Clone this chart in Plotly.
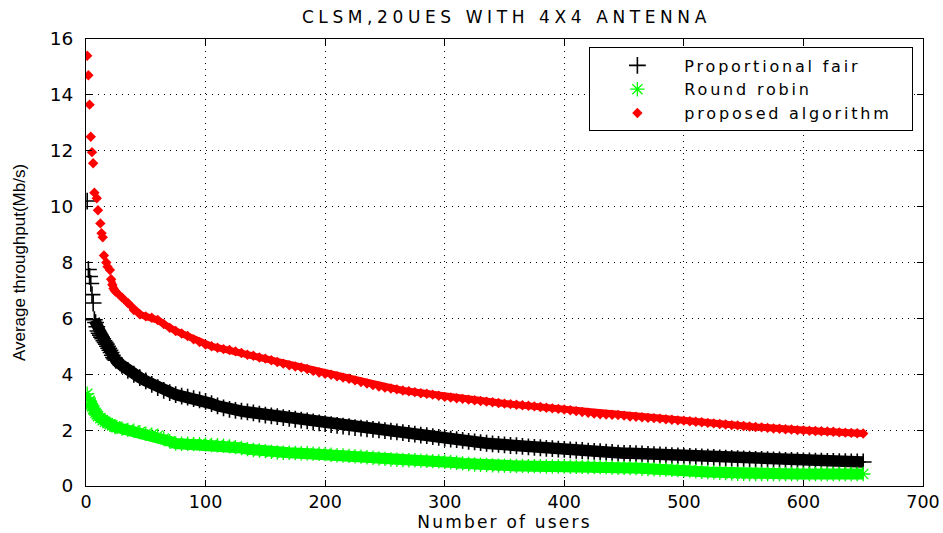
import plotly.graph_objects as go

# ---------------- data ----------------
title_text = "CLSM,20UES WITH 4X4 ANTENNA"
x_title = "Number of users"
y_title = "Average throughput(Mb/s)"
series_names = ["Proportional fair", "Round robin", "proposed algorithm"]

x_ticks = [0, 100, 200, 300, 400, 500, 600, 700]
y_ticks = [0, 2, 4, 6, 8, 10, 12, 14, 16]

# users at which the sorted throughput was read (every 5th user after 25)
tail_users = list(range(25, 651, 5))

# Proportional fair
pf_head_users = [1, 2, 3, 4, 5, 6]
pf_head = [10.2, 7.75, 7.5, 7.25, 6.85, 6.55]
pf_band_users = [7, 8, 9, 10, 11, 12, 13, 14, 15, 16, 17, 18, 19, 20, 21, 22, 23, 24]
pf_band = [5.95, 5.85, 5.7, 5.55, 5.47, 5.4, 5.33, 5.27, 5.2, 5.14, 5.08, 5.0,
           4.93, 4.86, 4.78, 4.68, 4.6, 4.55]
pf_tail = [4.5, 4.32, 4.14, 4.0, 3.88, 3.76, 3.64, 3.52, 3.42, 3.34,
           3.27, 3.22, 3.18, 3.13, 3.08, 3.03, 2.95, 2.87, 2.8, 2.74,
           2.71, 2.68, 2.65, 2.62, 2.57, 2.54, 2.51, 2.48, 2.45, 2.42,
           2.39, 2.36, 2.33, 2.29, 2.26, 2.23, 2.2, 2.17, 2.14, 2.12,
           2.09, 2.07, 2.05, 2.03, 2.01, 1.98, 1.96, 1.94, 1.91, 1.88,
           1.86, 1.82, 1.8, 1.77, 1.74, 1.71, 1.68, 1.66, 1.63, 1.6,
           1.58, 1.55, 1.53, 1.51, 1.49, 1.47, 1.45, 1.44, 1.42, 1.4,
           1.38, 1.37, 1.35, 1.34, 1.32, 1.31, 1.29, 1.28, 1.27, 1.25,
           1.24, 1.23, 1.21, 1.2, 1.18, 1.17, 1.17, 1.16, 1.15, 1.13,
           1.12, 1.11, 1.1, 1.09, 1.08, 1.07, 1.06, 1.05, 1.04, 1.03,
           1.02, 1.01, 1.0, 0.99, 0.98, 0.97, 0.96, 0.95, 0.95, 0.94,
           0.93, 0.93, 0.92, 0.92, 0.91, 0.9, 0.9, 0.89, 0.89, 0.88,
           0.88, 0.87, 0.87, 0.86, 0.86, 0.86]

# Round robin
rr_head_users = [1, 2]
rr_head = [3.3, 3.15]
rr_band_users = [3, 4, 5, 6, 7, 8, 9, 10, 12, 14, 16, 18, 20, 22, 24]
rr_band = [3.05, 2.95, 2.85, 2.75, 2.7, 2.62, 2.56, 2.5, 2.43, 2.36, 2.3, 2.25,
           2.21, 2.17, 2.13]
rr_tail = [2.11, 2.06, 2.01, 1.98, 1.93, 1.87, 1.84, 1.8, 1.7, 1.6,
           1.52, 1.51, 1.51, 1.5, 1.5, 1.49, 1.47, 1.46, 1.44, 1.42,
           1.39, 1.36, 1.32, 1.29, 1.27, 1.25, 1.22, 1.2, 1.19, 1.19,
           1.18, 1.17, 1.17, 1.16, 1.15, 1.14, 1.12, 1.1, 1.09, 1.08,
           1.06, 1.05, 1.03, 1.01, 0.99, 0.97, 0.95, 0.94, 0.93, 0.92,
           0.92, 0.91, 0.9, 0.89, 0.88, 0.87, 0.85, 0.83, 0.81, 0.79,
           0.77, 0.76, 0.75, 0.74, 0.73, 0.73, 0.72, 0.72, 0.72, 0.71,
           0.71, 0.71, 0.7, 0.7, 0.7, 0.7, 0.69, 0.69, 0.69, 0.68,
           0.68, 0.68, 0.67, 0.66, 0.65, 0.65, 0.64, 0.64, 0.62, 0.61,
           0.6, 0.59, 0.59, 0.58, 0.57, 0.56, 0.55, 0.53, 0.51, 0.5,
           0.49, 0.47, 0.46, 0.45, 0.44, 0.44, 0.43, 0.43, 0.43, 0.43,
           0.43, 0.43, 0.43, 0.43, 0.43, 0.43, 0.43, 0.43, 0.43, 0.43,
           0.43, 0.43, 0.43, 0.43, 0.43, 0.43]

# proposed algorithm
pa_head_users = [1, 2, 3, 4, 5, 6, 7, 9, 10, 12, 13, 14, 15, 17, 18, 20]
pa_head = [15.4, 14.7, 13.65, 12.5, 11.95, 11.55, 10.5, 10.3, 9.87, 9.4, 9.05,
           8.9, 8.25, 8.0, 7.85, 7.73]
pa_band_users = [21, 22, 23, 24]
pa_band = [7.4, 7.2, 7.07, 7.0]
pa_tail = [6.95, 6.75, 6.55, 6.3, 6.15, 6.07, 6.02, 5.94, 5.8, 5.66,
           5.55, 5.46, 5.37, 5.25, 5.15, 5.06, 5.0, 4.95, 4.9, 4.87,
           4.82, 4.76, 4.7, 4.66, 4.6, 4.56, 4.5, 4.44, 4.38, 4.32,
           4.28, 4.24, 4.19, 4.12, 4.06, 4.02, 3.98, 3.93, 3.88, 3.84,
           3.78, 3.72, 3.67, 3.61, 3.56, 3.52, 3.49, 3.46, 3.42, 3.39,
           3.36, 3.32, 3.3, 3.27, 3.23, 3.19, 3.17, 3.14, 3.12, 3.09,
           3.07, 3.04, 3.02, 3.0, 2.97, 2.95, 2.93, 2.91, 2.89, 2.87,
           2.85, 2.83, 2.8, 2.78, 2.76, 2.74, 2.71, 2.68, 2.65, 2.62,
           2.59, 2.57, 2.56, 2.55, 2.54, 2.52, 2.49, 2.48, 2.46, 2.44,
           2.43, 2.41, 2.39, 2.37, 2.35, 2.34, 2.32, 2.3, 2.28, 2.26,
           2.24, 2.22, 2.2, 2.18, 2.17, 2.15, 2.13, 2.11, 2.1, 2.08,
           2.06, 2.05, 2.03, 2.02, 2.0, 1.99, 1.98, 1.97, 1.96, 1.95,
           1.94, 1.92, 1.91, 1.9, 1.89, 1.88]

# ---------------- figure ----------------
BLACK = "#000000"
GREEN = "#00ff00"
RED = "#ff0000"
HFONT = "DejaVu Sans"
VFONT = "Liberation Sans, Arial"


def spaced(text, px, tail=""):
    """Widen horizontal text a little (the reference image is stretched sideways)."""
    return '<span style="letter-spacing:%gpx">%s%s</span>' % (px, text, tail)


styles = [
    dict(name=series_names[0], color=BLACK, symbol="cross-thin", size=12, lw=1.6, band=11.5,
         hu=pf_head_users, hy=pf_head, bu=pf_band_users + tail_users, by=pf_band + pf_tail),
    dict(name=series_names[1], color=GREEN, symbol="asterisk", size=12, lw=1.3, band=11,
         hu=rr_head_users, hy=rr_head, bu=rr_band_users + tail_users, by=rr_band + rr_tail),
    dict(name=series_names[2], color=RED, symbol="diamond", size=8, lw=0, band=7,
         hu=pa_head_users, hy=pa_head, bu=pa_band_users + tail_users, by=pa_band + pa_tail),
]

fig = go.Figure()
for s in styles:
    marker = dict(symbol=s["symbol"], size=s["size"], color=s["color"],
                  line=dict(color=s["color"], width=s["lw"]))
    fig.add_trace(go.Scatter(
        x=s["bu"], y=s["by"], mode="lines+markers", legendgroup=s["name"], showlegend=False,
        line=dict(color=s["color"], width=s["band"]), marker=marker, hoverinfo="skip"))
    fig.add_trace(go.Scatter(
        x=s["hu"], y=s["hy"], mode="markers",
        name=spaced(s["name"], 2.8, "\u00a0\u00a0"),
        legendgroup=s["name"], marker=marker))

axis_common = dict(
    showline=True, linecolor=BLACK, linewidth=1, mirror="ticks",
    ticks="inside", ticklen=6, tickcolor=BLACK, tickwidth=1,
    showgrid=True, gridcolor=BLACK, gridwidth=1, griddash="1px,5px",
    zeroline=False, automargin=False,
)

fig.update_layout(
    width=943, height=533,
    margin=dict(l=86, r=20, t=39, b=47),
    paper_bgcolor="white", plot_bgcolor="white",
    title=dict(text=spaced(title_text, 4.6), x=0.537, xanchor="center", y=1 - 17 / 533,
               yanchor="middle", yref="container",
               font=dict(family=HFONT, size=17, color=BLACK)),
    xaxis=dict(axis_common, range=[0, 700], tickvals=x_ticks, ticklabelstandoff=0,
               tickfont=dict(family=HFONT, size=17.5, color=BLACK),
               title=dict(text=spaced(x_title, 2.2), standoff=2,
                          font=dict(family=HFONT, size=17, color=BLACK))),
    yaxis=dict(axis_common, range=[0, 16], tickvals=y_ticks, ticklabelstandoff=8,
               tickfont=dict(family=HFONT, size=18.5, color=BLACK),
               title=dict(text=y_title, standoff=19,
                          font=dict(family=VFONT, size=17, color=BLACK))),
    legend=dict(x=0.9885, xanchor="right", y=0.981, yanchor="top",
                bgcolor="white", bordercolor=BLACK, borderwidth=1,
                font=dict(family=HFONT, size=16, color=BLACK),
                itemwidth=84, tracegroupgap=0),
    showlegend=True,
)

fig.write_html("out.html")
